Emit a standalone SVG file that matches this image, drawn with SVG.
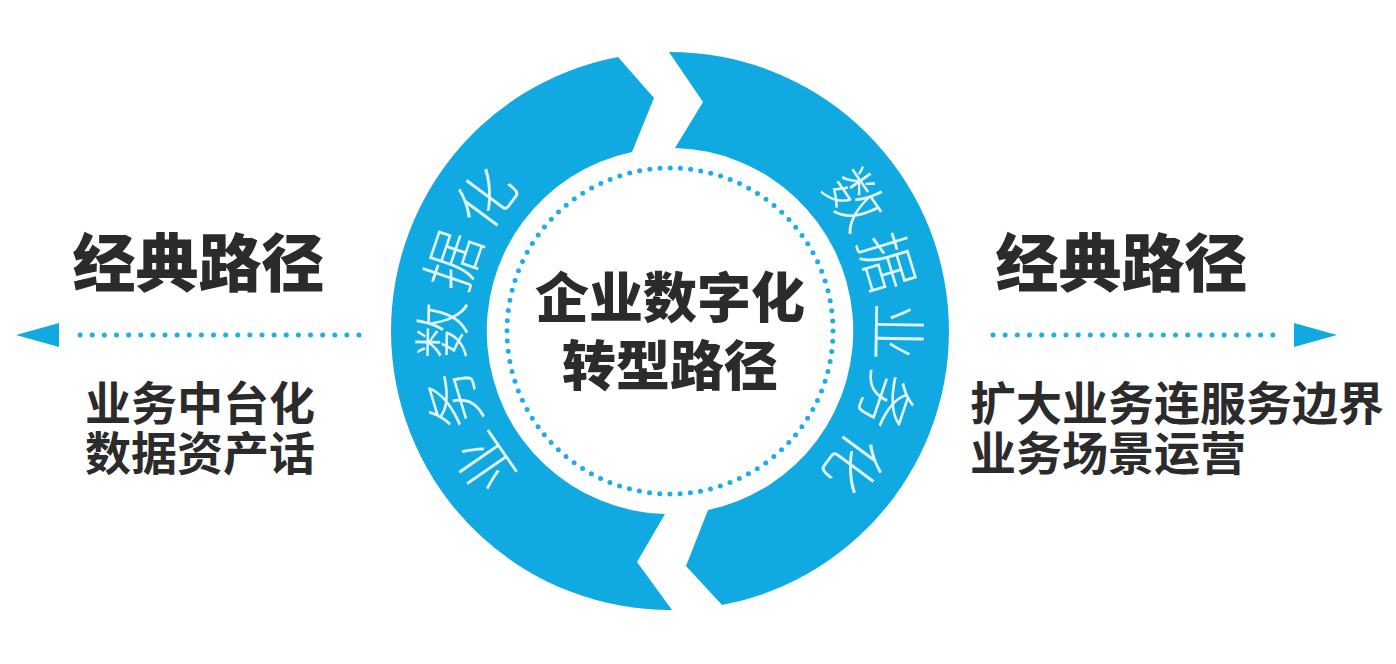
<svg xmlns="http://www.w3.org/2000/svg" width="1396" height="664" viewBox="0 0 1396 664">
<style>
.ring{fill:#11a9e1}
.ringtxt{font-family:"Noto Sans CJK SC","Noto Sans",sans-serif;font-size:58px;font-weight:300;fill:#e2f4fc;letter-spacing:6px}
.head{font-family:"Noto Sans CJK SC","Noto Sans",sans-serif;font-size:63px;font-weight:900;fill:#2b2b2b}
.center{font-family:"Noto Sans CJK SC","Noto Sans",sans-serif;font-size:54px;font-weight:900;fill:#2b2b2b;text-anchor:middle}
.sub{font-family:"Noto Sans CJK SC","Noto Sans",sans-serif;font-size:46px;font-weight:700;fill:#2b2b2b}
.dots{fill:none;stroke:#1caeea;stroke-width:5;stroke-linecap:round}
.tri{fill:#11a9e1}
</style>
<defs>
<path id="arcL" d="M 670 537 A 206 206 0 0 1 670 125"/>
<path id="arcR" d="M 670 125 A 206 206 0 0 1 670 537"/>
</defs>
<rect width="1396" height="664" fill="#ffffff"/>
<g id="ring-left">
<path class="ring" d="M 618 56.9 A 279 279 0 0 0 672 610 L 637 562 L 665 514 A 183 183 0 0 1 632 152 L 654 98 Z"/>
<text class="ringtxt"><textPath href="#arcL" startOffset="326.6" text-anchor="middle">业务数据化</textPath></text>
</g>
<g id="ring-right">
<path class="ring" d="M 669 52 A 279 279 0 0 1 722 605.1 L 686 566 L 708 510 A 183 183 0 0 0 675 148 L 703 102 Z"/>
<text class="ringtxt"><textPath href="#arcR" startOffset="326.6" text-anchor="middle">数据业务化</textPath></text>
</g>
<g id="center">
<circle cx="670" cy="331" r="163" class="dots" stroke-width="4.5" stroke-dasharray="0 10.24"/>
<text class="center" x="670" y="318">企业数字化</text>
<text class="center" x="670" y="386">转型路径</text>
</g>
<g id="left-node">
<text class="head" x="198.5" y="286" text-anchor="middle">经典路径</text>
<text class="sub" x="85" y="420">业务中台化</text>
<text class="sub" x="85" y="470">数据资产话</text>
</g>
<g id="right-node">
<text class="head" x="1121.5" y="286" text-anchor="middle">经典路径</text>
<text class="sub" x="970" y="420">扩大业务连服务边界</text>
<text class="sub" x="970" y="470">业务场景运营</text>
</g>
<g id="connectors">
<line class="dots" x1="359" y1="335" x2="68" y2="335" stroke-dasharray="0 12.125"/>
<polygon class="tri" points="16,335 59,323 59,347"/>
<line class="dots" x1="993" y1="335" x2="1285" y2="335" stroke-dasharray="0 12.167"/>
<polygon class="tri" points="1337,335 1294,323 1294,347"/>
</g>
</svg>
